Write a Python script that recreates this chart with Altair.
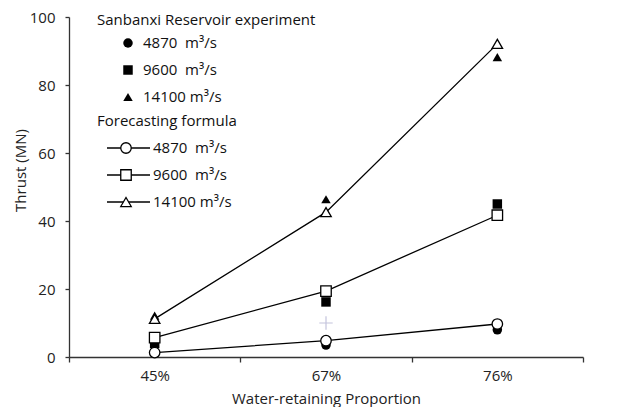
import altair as alt
import pandas as pd

categories = ["45%", "67%", "76%"]
exp_4870 = [1.2, 3.5, 8.0]
exp_9600 = [4.0, 16.2, 45.0]
exp_14100 = [12.2, 46.4, 88.2]
form_4870 = [1.3, 4.8, 9.7]
form_9600 = [5.7, 19.4, 41.7]
form_14100 = [11.2, 42.6, 92.1]
stray_cat = ["67%"]
stray_val = [10.0]

flows = ["4870\u00a0\u00a0m³/s", "9600\u00a0\u00a0m³/s", "14100\u00a0m³/s"]
shapes = ["circle", "square", "triangle-up"]

FONT = "Open Sans"
FS = 15

rows = []
for f, ev, fv in zip(flows, [exp_4870, exp_9600, exp_14100], [form_4870, form_9600, form_14100]):
    for c, e, v in zip(categories, ev, fv):
        rows.append({"cat": c, "flow": f, "exp": e, "form": v})
df = pd.DataFrame(rows)

xs = alt.X("cat:N", sort=categories, scale=alt.Scale(paddingInner=0, paddingOuter=0),
           axis=alt.Axis(title="Water-retaining Proportion", labelAngle=0, tickBand="extent",
                         tickSize=5, labelPadding=6, titlePadding=8))
ys = alt.Y("form:Q", scale=alt.Scale(domain=[0, 100], nice=False),
           axis=alt.Axis(title="Thrust (MN)", values=[0, 20, 40, 60, 80, 100], grid=False,
                         tickSize=4, labelPadding=10, titleX=-49, titleY=153, titleAngle=270,
                         titleAlign="center", titleBaseline="middle"))
shape_enc = alt.Shape("flow:N", scale=alt.Scale(domain=flows, range=shapes), legend=None)

base = alt.Chart(df)

lines = base.mark_line(color="black", strokeWidth=1.3).encode(x=xs, y=ys, detail="flow:N")

exp_pts = base.mark_point(filled=True, color="black", size=90, opacity=1).encode(
    x=alt.X("cat:N", sort=categories), y="exp:Q", shape=shape_enc)

form_pts = base.mark_point(filled=True, fill="white", stroke="black", strokeWidth=1.3,
                           size=110, opacity=1).encode(
    x=alt.X("cat:N", sort=categories), y="form:Q", shape=shape_enc)

stray = alt.Chart(pd.DataFrame({"cat": stray_cat, "v": stray_val})).mark_point(
    shape="M-1,0L1,0M0,-1L0,1", filled=False, stroke="#c4c4dc", strokeWidth=1.2, size=180,
    opacity=1).encode(
    x=alt.X("cat:N", sort=categories), y=alt.Y("v:Q"))

# manual legend
def txt(s, x, y):
    return alt.Chart(pd.DataFrame({"t": [s]})).mark_text(
        align="left", baseline="middle", font=FONT, fontSize=FS, color="#111").encode(
        x=alt.value(x), y=alt.value(y), text="t:N")

def sym(shape, x, y, open_=False):
    if open_:
        m = alt.Chart(pd.DataFrame({"a": [0]})).mark_point(
            shape=shape, filled=True, fill="white", stroke="black", strokeWidth=1.3, size=110, opacity=1)
    else:
        m = alt.Chart(pd.DataFrame({"a": [0]})).mark_point(
            shape=shape, filled=True, color="black", size=90, opacity=1)
    return m.encode(x=alt.value(x), y=alt.value(y))

def seg(x1, x2, y):
    return alt.Chart(pd.DataFrame({"a": [0]})).mark_rule(color="black", strokeWidth=1.3).encode(
        x=alt.value(x1), x2=alt.value(x2), y=alt.value(y))

legend = [txt("Sanbanxi Reservoir experiment", 28, 3)]
for i, (f, s) in enumerate(zip(flows, shapes)):
    yy = 26 + 27 * i
    legend += [sym(s, 59, yy), txt(f, 74, yy)]
legend.append(txt("Forecasting formula", 28, 104))
for i, (f, s) in enumerate(zip(flows, shapes)):
    yy = 131 + 27 * i
    legend += [seg(38, 81, yy), sym(s, 57, yy, open_=True), txt(f, 84, yy)]

chart = alt.layer(lines, stray, exp_pts, form_pts, *legend).properties(
    width=514, height=340,
    padding={"left": 61, "top": 9, "right": 10, "bottom": 50},
    autosize=alt.AutoSizeParams(type="none"),
).configure_view(stroke=None).configure_axis(
    domainColor="#333", tickColor="#333", labelColor="#222", titleColor="#222",
    labelFont=FONT, titleFont=FONT, labelFontSize=FS, titleFontSize=FS,
    titleFontWeight="normal", domainWidth=1.3, tickWidth=1.3)

chart.save("out.html", embed_options={"renderer": "svg", "actions": False})
